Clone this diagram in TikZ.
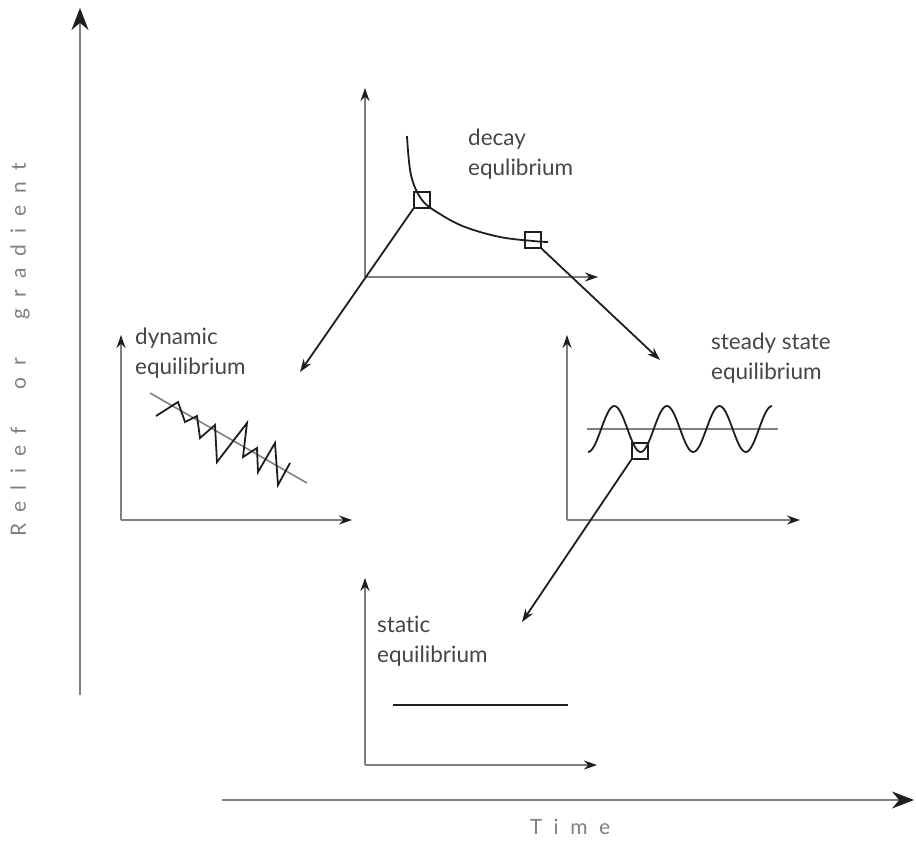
\documentclass[tikz,border=0pt]{standalone}
\usepackage{fontspec}
\setmainfont{Lato}[Ligatures=NoCommon]
\newfontfamily\spacedfont[LetterSpace=55]{Lato}
\usepackage{xcolor}
\definecolor{axisgray}{RGB}{128,128,128}
\definecolor{ink}{RGB}{30,30,30}
\definecolor{txt}{RGB}{70,70,70}
\usepackage{tikz}
\usetikzlibrary{arrows.meta,positioning,calc}

\tikzset{
  axis/.style={axisgray,line width=1.6pt,-{Stealth[length=13pt,width=9pt,color=ink]}},
  bigaxis/.style={axisgray,line width=2pt,-{Stealth[length=22pt,width=17pt,color=ink]}},
  curve/.style={ink,line width=1.8pt},
  link/.style={ink,line width=1.8pt,-{Stealth[length=13pt,width=9pt]}},
  marker/.style={draw=ink,line width=1.5pt,minimum size=16pt,inner sep=0pt},
  label/.style={anchor=north west,inner sep=0pt,align=left,text=txt,
    font=\fontsize{22.5}{30}\selectfont},
  axlabel/.style={inner sep=0pt,text=axisgray,font=\spacedfont\fontsize{21}{22}\selectfont}
}

\begin{document}
\begin{tikzpicture}[x=1pt,y=-1pt]
  \useasboundingbox (0,0) rectangle (916,841);

  % main axes
  \draw[bigaxis] (80,695) -- (80,8);
  \draw[bigaxis] (222,800) -- (914,800);
  \node[axlabel,rotate=90] (relief) at (20,350) {Relief\hspace{38pt}or\hspace{38pt}gradient};
  \node[axlabel] (time) at (570,827) {Time};

  % decay equilibrium
  \draw[axis] (365,277) -- (365,88);
  \draw[axis] (365,277) -- (598,277);
  \draw[curve] plot[smooth,tension=0.6] coordinates {(407,136) (411,175) (422,200) (440,214) (465,227) (500,237) (533,241) (548,242)};
  \node[marker] (boxA) at (422,200) {};
  \node[marker] (boxB) at (533,240) {};
  \node[label] (decay) at (468,129) {decay\\equlibrium};

  % dynamic equilibrium
  \draw[axis] (121,520) -- (121,335);
  \draw[axis] (121,520) -- (352,520);
  \draw[axisgray,line width=1.6pt] (150,393) -- (307,483);
  \draw[curve,line join=miter] (156,416) -- (178,402) -- (185,422) -- (197,416) -- (200,438)
    -- (215,425) -- (217,462) -- (247,423) -- (243,457) -- (257,448) -- (258,472)
    -- (275,443) -- (278,485) -- (290,463);
  \node[label] (dynamic) at (135,328) {dynamic\\equilibrium};

  % steady state equilibrium
  \draw[axis] (567,520) -- (567,335);
  \draw[axis] (567,520) -- (800,520);
  \draw[axisgray,line width=1.6pt] (587,429) -- (778,429);
  \draw[curve] plot[domain=0:184,samples=120] ({588+\x},{429+23*cos(6.844*\x)});
  \node[marker] (boxC) at (640,451) {};
  \node[label] (steady) at (711,333) {steady state\\equilibrium};

  % static equilibrium
  \draw[axis] (365,765) -- (365,578);
  \draw[axis] (365,765) -- (597,765);
  \draw[curve] (393,705) -- (568,705);
  \node[label] (static) at (377,616) {static\\equilibrium};

  % links between the panels
  \coordinate (toDyn) at (300,372);
  \coordinate (toSteady) at (660,360);
  \coordinate (toStatic) at (522,622);
  \draw[link] (boxA.south west) -- (toDyn);
  \draw[link] (boxB.south east) -- (toSteady);
  \draw[link] (boxC.south west) -- (toStatic);
\end{tikzpicture}
\end{document}
